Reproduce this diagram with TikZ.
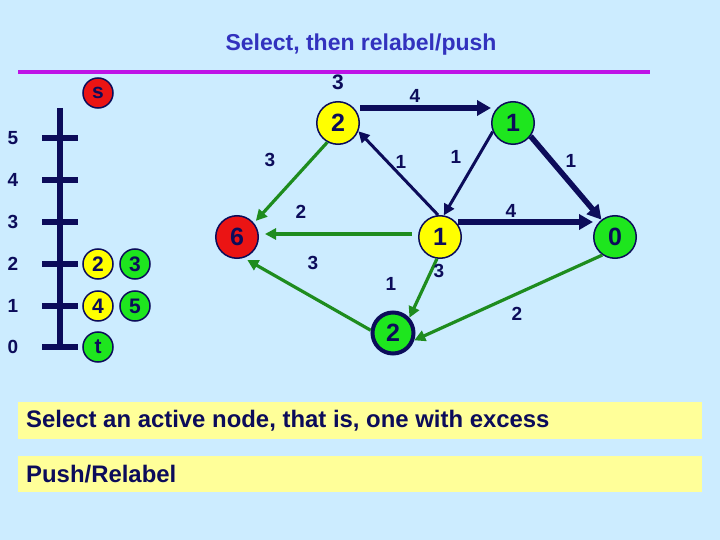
\documentclass[tikz,border=0pt]{standalone}
\usepackage{fontspec}
\setmainfont{Liberation Sans}
\usetikzlibrary{arrows.meta}
\definecolor{bg}{RGB}{204,236,255}
\definecolor{navy}{RGB}{12,12,90}
\definecolor{titleblue}{RGB}{50,50,190}
\definecolor{purp}{RGB}{190,20,230}
\definecolor{egreen}{RGB}{30,140,30}
\definecolor{ngreen}{RGB}{30,230,30}
\definecolor{nyellow}{RGB}{255,255,0}
\definecolor{nred}{RGB}{235,20,20}
\definecolor{boxy}{RGB}{255,255,153}
\begin{document}
\begin{tikzpicture}[x=1pt,y=-1pt,
  big/.style={circle, draw=navy, line width=1.5pt, minimum size=42.5pt, inner sep=0pt,
    font=\fontsize{25}{25}\selectfont\bfseries, text=navy},
  small/.style={circle, draw=navy, line width=1.5pt, minimum size=30pt, inner sep=0pt,
    font=\fontsize{21}{21}\selectfont\bfseries, text=navy},
  lab/.style={font=\fontsize{19}{19}\selectfont\bfseries, text=navy, inner sep=0pt},
  exlab/.style={font=\fontsize{21}{21}\selectfont\bfseries, text=navy, inner sep=0pt},
  navthin/.style={draw=navy, line width=3pt, -{Triangle[length=11pt,width=11pt]}},
  navthick/.style={draw=navy, line width=5.5pt, -{Triangle[length=14pt,width=15pt]}},
  grn/.style={draw=egreen, line width=3.2pt, -{Triangle[length=11pt,width=11pt]}},
  boxtext/.style={anchor=west, inner sep=0pt, text=navy,
    font=\fontsize{23.9}{23.9}\selectfont\bfseries},
  tick/.style={draw=navy, line width=6pt}
]
\fill[bg] (0,0) rectangle (720,540);
\useasboundingbox (0,0) rectangle (720,540);

% title and rule
\node[text=titleblue, font=\fontsize{23}{23}\selectfont\bfseries, inner sep=0pt] (title) at (361,45) {Select, then relabel/push};
\coordinate (ruleL) at (18,72);
\coordinate (ruleR) at (650,72);
\draw[purp, line width=4pt] (ruleL) -- (ruleR);

% height scale
\coordinate (axT) at (60,108);
\coordinate (axB) at (60,350);
\draw[tick] (axT) -- (axB);
\foreach \h/\yy in {5/138,4/180,3/222,2/264,1/306,0/347}{
  \coordinate (tl\h) at (42,\yy);
  \coordinate (tr\h) at (78,\yy);
  \draw[tick] (tl\h) -- (tr\h);
  \node[lab] (hl\h) at (13,\yy) {\h};
}

% small nodes
\node[small, fill=nred] (s) at (98,93) {s};
\node[small, fill=nyellow] (L2) at (98,264) {2};
\node[small, fill=ngreen] (L3) at (135,264) {3};
\node[small, fill=nyellow] (L4) at (98,306) {4};
\node[small, fill=ngreen] (L5) at (135,306) {5};
\node[small, fill=ngreen] (Lt) at (98,347) {t};

% graph nodes
\node[big, fill=nyellow] (t2) at (338,123) {2};
\node[big, fill=nred] (six) at (237,237) {6};
\node[big, fill=nyellow] (m1) at (440,237) {1};
\node[big, fill=ngreen, line width=4pt, minimum size=41pt] (b2) at (393,333) {2};
\node[big, fill=ngreen] (r1) at (513,123) {1};
\node[big, fill=ngreen] (z) at (615,237) {0};

% edges
\draw[navthick] ([yshift=15pt]t2.east) -- ([yshift=15pt]r1.west);
\draw[navthin] (m1.95) -- (t2.-22);
\draw[navthin] (r1.203) -- (m1.80);
\draw[navthick] (r1.-37) -- (z.128);
\draw[navthick] ([yshift=15pt,xshift=-4pt]m1.east) -- ([yshift=15pt]z.west);
\draw[grn] (t2.241) -- ([shift={(2pt,2pt)}]six.40);
\draw[grn] ([yshift=3pt,xshift=-6pt]m1.west) -- ([yshift=3pt,xshift=6pt]six.east);
\draw[grn] (b2.173) -- ([shift={(1pt,-3pt)}]six.-65);
\draw[grn] (m1.-98) -- (b2.43);
\draw[grn] (z.235) -- (b2.-19);

% labels
\node[exlab] (ex2) at (338,82) {3};
\node[lab] (ex1) at (439,271) {3};
\node[lab] (c1) at (415,96) {4};
\node[lab] (c2) at (401,162) {1};
\node[lab] (c3) at (456,157) {1};
\node[lab] (c4) at (571,161) {1};
\node[lab] (c5) at (511,211) {4};
\node[lab] (c6) at (270,160) {3};
\node[lab] (c7) at (301,212) {2};
\node[lab] (c8) at (313,263) {3};
\node[lab] (c9) at (391,284) {1};
\node[lab] (c10) at (517,314) {2};

% text boxes
\fill[boxy] (18,402) rectangle (702,439);
\fill[boxy] (18,456) rectangle (702,492);
\node[boxtext] (t1) at (26,420.5) {Select an active node, that is, one with excess};
\node[boxtext] (t2txt) at (26,474) {Push/Relabel};
\end{tikzpicture}
\end{document}
